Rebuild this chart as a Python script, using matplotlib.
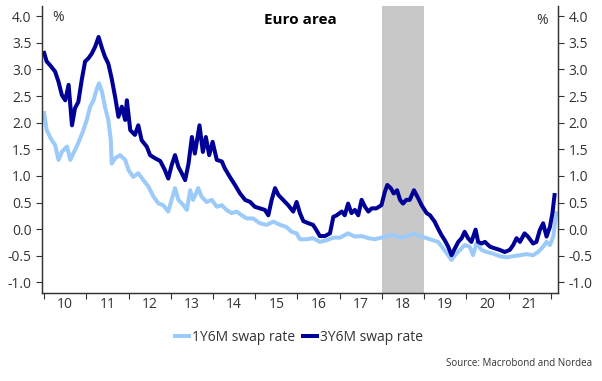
import matplotlib
matplotlib.use("Agg")
import matplotlib.pyplot as plt
from matplotlib.ticker import FixedLocator, NullFormatter, FixedFormatter

plt.rcParams['font.family'] = ['Open Sans', 'DejaVu Sans']

# 3Y6M swap rate (decimal year, %)
t_3y = [2010.00, 2010.06, 2010.14, 2010.26, 2010.34, 2010.42, 2010.50, 2010.58, 2010.66, 2010.73,
        2010.81, 2010.89, 2010.97, 2011.05, 2011.13, 2011.21, 2011.29, 2011.37, 2011.44, 2011.52,
        2011.60, 2011.68, 2011.76, 2011.84, 2011.92, 2011.96, 2012.04, 2012.15, 2012.23, 2012.31,
        2012.43, 2012.51, 2012.63, 2012.75, 2012.86, 2012.94, 2013.02, 2013.10, 2013.18, 2013.26,
        2013.34, 2013.42, 2013.50, 2013.57, 2013.68, 2013.76, 2013.83, 2013.91, 2013.99, 2014.09,
        2014.21, 2014.28, 2014.40, 2014.52, 2014.64, 2014.76, 2014.88, 2014.99, 2015.11, 2015.23,
        2015.31, 2015.39, 2015.47, 2015.55, 2015.66, 2015.78, 2015.90, 2015.98, 2016.06, 2016.14,
        2016.26, 2016.37, 2016.45, 2016.53, 2016.65, 2016.77, 2016.85, 2016.93, 2017.05, 2017.12,
        2017.20, 2017.28, 2017.36, 2017.44, 2017.52, 2017.60, 2017.68, 2017.76, 2017.87, 2017.99,
        2018.07, 2018.13, 2018.21, 2018.28, 2018.36, 2018.43, 2018.50, 2018.58, 2018.66, 2018.76,
        2018.86, 2018.94, 2019.06, 2019.14, 2019.25, 2019.33, 2019.41, 2019.49, 2019.57, 2019.65,
        2019.73, 2019.81, 2019.89, 2019.96, 2020.04, 2020.12, 2020.22, 2020.28, 2020.36, 2020.44,
        2020.56, 2020.67, 2020.79, 2020.91, 2021.03, 2021.11, 2021.19, 2021.27, 2021.38, 2021.46,
        2021.58, 2021.66, 2021.74, 2021.82, 2021.90, 2021.98, 2022.04, 2022.09]
swap_3y = [3.31, 3.15, 3.08, 2.96, 2.77, 2.52, 2.42, 2.71, 1.95, 2.27,
           2.39, 2.80, 3.15, 3.21, 3.30, 3.43, 3.61, 3.40, 3.24, 3.11,
           2.83, 2.49, 2.11, 2.30, 2.05, 2.42, 1.86, 1.77, 1.95, 1.67,
           1.55, 1.39, 1.33, 1.28, 1.11, 0.95, 1.20, 1.39, 1.17, 1.05,
           0.92, 1.23, 1.73, 1.42, 1.95, 1.45, 1.73, 1.39, 1.64, 1.30,
           1.27, 1.14, 0.98, 0.83, 0.67, 0.55, 0.51, 0.42, 0.39, 0.36,
           0.26, 0.55, 0.77, 0.64, 0.55, 0.45, 0.33, 0.51, 0.30, 0.15,
           0.11, 0.08, -0.02, -0.13, -0.13, -0.08, 0.23, 0.26, 0.33, 0.26,
           0.48, 0.30, 0.36, 0.26, 0.55, 0.42, 0.33, 0.39, 0.39, 0.45,
           0.70, 0.83, 0.77, 0.67, 0.73, 0.55, 0.48, 0.55, 0.55, 0.73,
           0.58, 0.45, 0.30, 0.26, 0.14, 0.01, -0.11, -0.21, -0.33, -0.49,
           -0.36, -0.24, -0.17, -0.05, -0.17, -0.24, -0.01, -0.24, -0.27, -0.24,
           -0.33, -0.36, -0.39, -0.43, -0.39, -0.30, -0.17, -0.24, -0.08, -0.14,
           -0.27, -0.24, -0.02, 0.11, -0.14, 0.04, 0.30, 0.64]

# 1Y6M swap rate
t_1y = [2010.00, 2010.06, 2010.18, 2010.26, 2010.34, 2010.42, 2010.54, 2010.62, 2010.69, 2010.77,
        2010.85, 2010.93, 2011.01, 2011.09, 2011.17, 2011.25, 2011.30, 2011.37, 2011.44, 2011.52,
        2011.58, 2011.60, 2011.68, 2011.80, 2011.92, 2012.00, 2012.11, 2012.23, 2012.35, 2012.47,
        2012.59, 2012.71, 2012.82, 2012.94, 2013.02, 2013.10, 2013.18, 2013.30, 2013.38, 2013.46,
        2013.53, 2013.65, 2013.73, 2013.85, 2013.97, 2014.09, 2014.21, 2014.32, 2014.44, 2014.56,
        2014.68, 2014.80, 2014.95, 2015.11, 2015.27, 2015.43, 2015.59, 2015.74, 2015.86, 2015.98,
        2016.06, 2016.22, 2016.37, 2016.53, 2016.69, 2016.85, 2017.01, 2017.20, 2017.36, 2017.52,
        2017.68, 2017.83, 2017.99, 2018.11, 2018.27, 2018.43, 2018.59, 2018.74, 2018.90, 2019.06,
        2019.21, 2019.33, 2019.45, 2019.57, 2019.65, 2019.73, 2019.85, 2019.96, 2020.08, 2020.16,
        2020.24, 2020.36, 2020.48, 2020.63, 2020.79, 2020.95, 2021.11, 2021.27, 2021.42, 2021.58,
        2021.70, 2021.82, 2021.90, 2021.98, 2022.06, 2022.13]
swap_1y = [2.18, 1.86, 1.67, 1.58, 1.30, 1.45, 1.55, 1.30, 1.42, 1.55,
           1.70, 1.86, 2.05, 2.30, 2.42, 2.64, 2.74, 2.58, 2.30, 2.05,
           1.67, 1.23, 1.33, 1.39, 1.30, 1.11, 0.98, 1.05, 0.92, 0.80,
           0.61, 0.48, 0.45, 0.33, 0.55, 0.77, 0.55, 0.45, 0.36, 0.73,
           0.55, 0.77, 0.61, 0.51, 0.55, 0.42, 0.45, 0.36, 0.30, 0.33,
           0.26, 0.20, 0.20, 0.11, 0.08, 0.14, 0.08, 0.04, -0.05, -0.08,
           -0.19, -0.19, -0.17, -0.24, -0.21, -0.16, -0.16, -0.08, -0.14, -0.13,
           -0.17, -0.19, -0.16, -0.13, -0.11, -0.16, -0.14, -0.08, -0.13, -0.17,
           -0.21, -0.24, -0.36, -0.49, -0.58, -0.49, -0.39, -0.30, -0.33, -0.49,
           -0.27, -0.39, -0.43, -0.46, -0.51, -0.53, -0.51, -0.49, -0.47, -0.49,
           -0.43, -0.33, -0.24, -0.30, -0.14, 0.30]

years = list(range(2010, 2022))
year_labels = [str(y)[2:] for y in years]
yticks = [-1.0, -0.5, 0.0, 0.5, 1.0, 1.5, 2.0, 2.5, 3.0, 3.5, 4.0]
shade = (2018, 2019)

light = '#9ccbf9'
dark = '#000096'
txt = '#333333'

fig = plt.figure(figsize=(6.02, 3.81), dpi=100)
ax = fig.add_axes([0.0698, 0.231, 0.857, 0.753])

ax.axvspan(*shade, color='#c8c8c8', lw=0, zorder=0)
ax.plot(t_1y, swap_1y, color=light, lw=2.9, label='1Y6M swap rate', zorder=2,
        solid_joinstyle='round')
ax.plot(t_3y, swap_3y, color=dark, lw=2.9, label='3Y6M swap rate', zorder=3,
        solid_joinstyle='round')

ax.set_xlim(2009.95, 2022.17)
ax.set_ylim(-1.2, 4.19)

ax.xaxis.set_major_locator(FixedLocator(years + [2022]))
ax.xaxis.set_major_formatter(NullFormatter())
ax.xaxis.set_minor_locator(FixedLocator([y + 0.5 for y in years]))
ax.xaxis.set_minor_formatter(FixedFormatter(year_labels))
ax.tick_params(axis='x', which='major', length=4, direction='out', color=txt)
ax.tick_params(axis='x', which='minor', length=0, labelsize=10, labelcolor=txt, pad=3)

ax.set_yticks(yticks)
ax.set_yticklabels([f'{v:.1f}' for v in yticks])
ax.tick_params(axis='y', length=4, direction='out', labelsize=10, labelcolor=txt, color=txt)

ax2 = ax.twinx()
ax2.set_ylim(ax.get_ylim())
ax2.set_yticks(yticks)
ax2.set_yticklabels([f'{v:.1f}' for v in yticks])
ax2.tick_params(axis='y', length=4, direction='out', labelsize=10, labelcolor=txt, color=txt)

for a in (ax, ax2):
    a.spines['top'].set_visible(False)
    for s in ('left', 'right', 'bottom'):
        a.spines[s].set_color(txt)
        a.spines[s].set_linewidth(0.9)

ax.text(0.02, 0.985, '%', transform=ax.transAxes, ha='left', va='top', fontsize=10, color=txt)
ax.text(0.98, 0.975, '%', transform=ax.transAxes, ha='right', va='top', fontsize=10, color=txt)
ax.text(0.5, 0.975, 'Euro area', transform=ax.transAxes, ha='center', va='top',
        fontsize=11, fontweight='bold', color='black')

fig.legend(loc='center', bbox_to_anchor=(0.497, 0.115), ncol=2, frameon=False,
           fontsize=10, handlelength=1.0, handletextpad=0.2, columnspacing=0.6,
           labelcolor=txt)
fig.text(0.983, 0.047, 'Source: Macrobond and Nordea', ha='right', va='center',
         fontsize=7, color=txt)

fig.savefig('out.png', dpi=100)
